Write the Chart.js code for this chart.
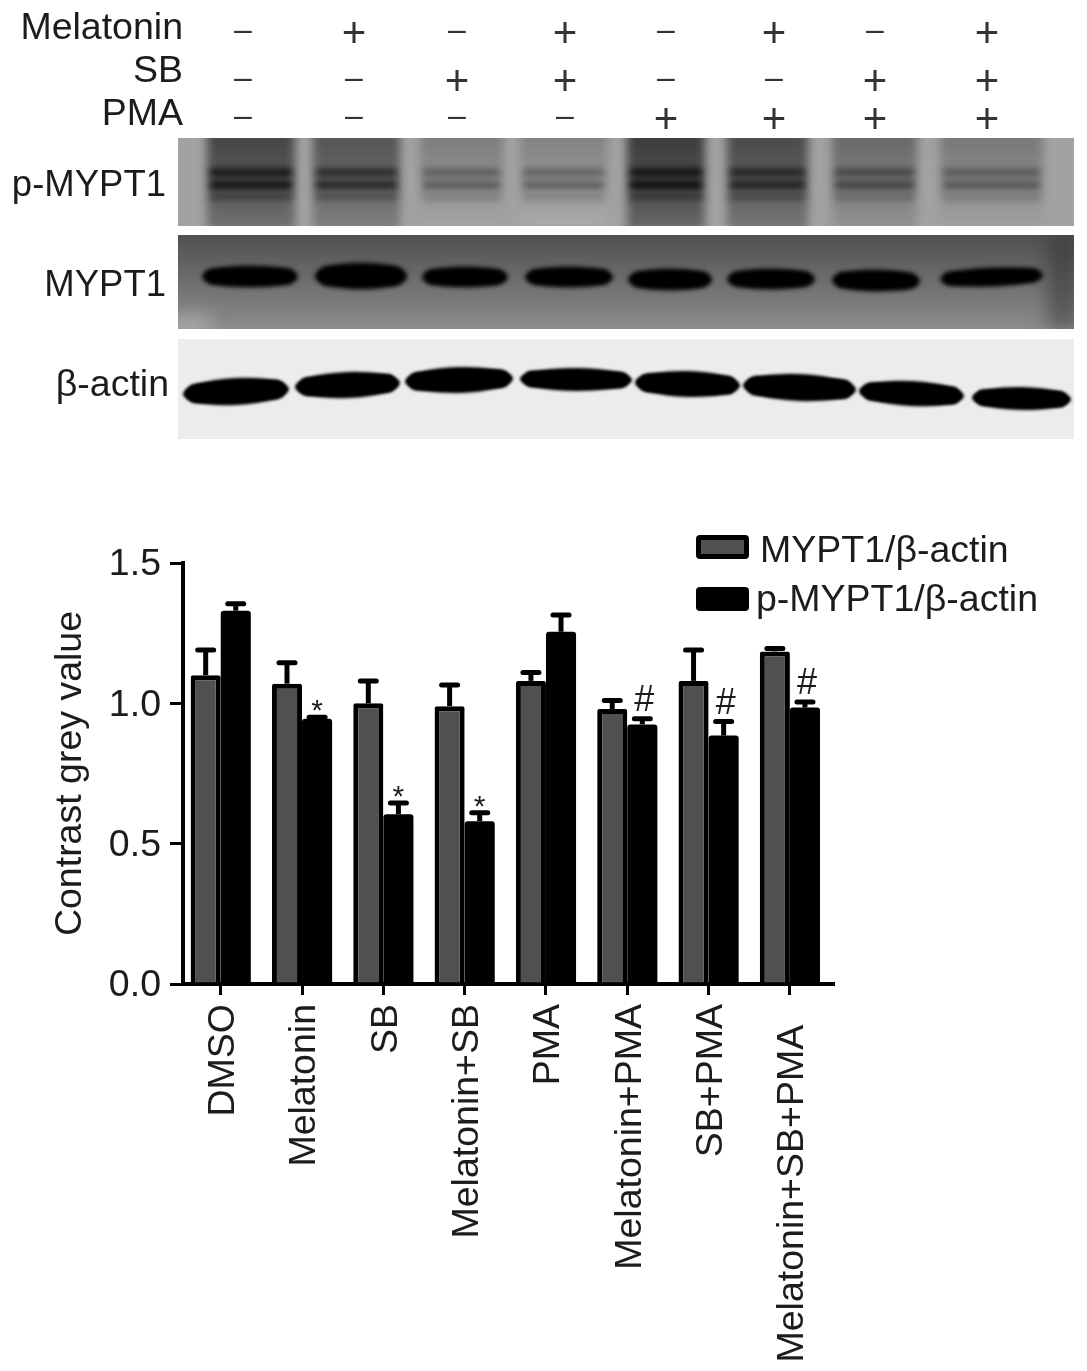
<!DOCTYPE html>
<html>
<head>
<meta charset="utf-8">
<title>MYPT1 contrast grey value</title>
<script src="https://cdn.jsdelivr.net/npm/chart.js@4"></script>
<style>
  html, body { margin: 0; padding: 0; background: #fff; }
  canvas { display: block; }
</style>
</head>
<body>
<canvas id="chart" width="1087" height="1371"></canvas>
<script>
const categories = ["DMSO", "Melatonin", "SB", "Melatonin+SB", "PMA", "Melatonin+PMA", "SB+PMA", "Melatonin+SB+PMA"];
const seriesNames = ["MYPT1/β-actin", "p-MYPT1/β-actin"];
const mypt1 = [1.10, 1.07, 1.00, 0.99, 1.08, 0.98, 1.08, 1.185];
const mypt1Err = [0.09, 0.075, 0.08, 0.075, 0.03, 0.03, 0.11, 0.01];
const pMypt1 = [1.33, 0.945, 0.605, 0.58, 1.255, 0.925, 0.885, 0.985];
const pMypt1Err = [0.025, 0.005, 0.04, 0.03, 0.06, 0.02, 0.05, 0.02];
const marks = ["", "*", "*", "*", "", "#", "#", "#"];
const yTicks = [0, 0.5, 1, 1.5];

const melatoninRow = ["–", "+", "–", "+", "–", "+", "–", "+"];
const sbRow = ["–", "–", "+", "+", "–", "–", "+", "+"];
const pmaRow = ["–", "–", "–", "–", "+", "+", "+", "+"];
const blotNames = ["p-MYPT1", "MYPT1", "β-actin"];

const FONT = '"Liberation Sans", Arial, sans-serif';
const INK = "#1c1c1c";
const TEXT_SIZE = 37.5;

// --- Western blot panels (picture only, not chart data) ---
// lane: x0, x1, base grey, band grey
const pLanes = [
  [207, 295, 85, 10], [313, 400, 100, 30], [420, 503, 140, 85], [520, 607, 145, 90],
  [627, 705, 75, 5], [727, 808, 90, 25], [832, 917, 120, 60], [940, 1043, 135, 80],
];
// band: x0, x1, y0, y1, tilt (radians)
const totalBands = [
  [202, 298, 266, 287, 0], [315, 407, 263, 289, 0], [422, 508, 267, 287, 0], [525, 613, 267, 287, 0],
  [628, 712, 269, 290, 0], [727, 815, 269, 289, 0], [832, 920, 270, 291, 0.01], [940, 1043, 268, 286, -0.04],
];
const actinBands = [
  [183, 289, 378, 405, -0.05], [295, 400, 372, 398, -0.04], [405, 513, 367, 393, -0.03], [520, 632, 368, 391, 0.01],
  [635, 740, 371, 397, 0.03], [743, 856, 374, 401, 0.04], [859, 964, 381, 406, 0.05], [972, 1071, 387, 410, 0.02],
];

// lens shaped band: a full ellipse over a flatter pill
function band(ctx, b) {
  const w = b[1] - b[0];
  const h = b[3] - b[2];
  ctx.save();
  ctx.translate((b[0] + b[1]) / 2, (b[2] + b[3]) / 2);
  ctx.rotate(b[4] || 0);
  ctx.fillStyle = "#000";
  ctx.beginPath();
  ctx.ellipse(0, 0, w / 2, h / 2, 0, 0, Math.PI * 2);
  ctx.fill();
  ctx.beginPath();
  ctx.roundRect(-w / 2 + 3, -h * 0.36, w - 6, h * 0.72, h * 0.36);
  ctx.fill();
  ctx.restore();
}
function grey(v) { return `rgb(${v},${v},${v})`; }

function drawBlots(ctx) {
  // p-MYPT1
  ctx.save();
  ctx.beginPath(); ctx.rect(178, 138, 896, 88); ctx.clip();
  ctx.fillStyle = "#a2a2a2"; ctx.fillRect(178, 138, 896, 88);
  ctx.filter = "blur(5px)";
  pLanes.forEach((l) => {
    const g = ctx.createLinearGradient(0, 138, 0, 226);
    g.addColorStop(0, grey(l[2] - 15));
    g.addColorStop(0.55, grey(l[2] + 5));
    g.addColorStop(1, grey(l[2] + 25));
    ctx.fillStyle = g;
    ctx.fillRect(l[0], 130, l[1] - l[0], 100);
  });
  ctx.filter = "blur(3.5px)";
  pLanes.forEach((l) => {
    ctx.fillStyle = grey(l[3]);
    ctx.fillRect(l[0] + 3, 169, l[1] - l[0] - 6, 7);
    ctx.fillRect(l[0] + 3, 181, l[1] - l[0] - 6, 8);
    ctx.fillStyle = grey(Math.round((l[2] + l[3]) / 2));
    ctx.fillRect(l[0] + 3, 194, l[1] - l[0] - 6, 5);
  });
  ctx.restore();

  // MYPT1
  ctx.save();
  ctx.beginPath(); ctx.rect(178, 235, 896, 94); ctx.clip();
  const g = ctx.createLinearGradient(0, 235, 0, 329);
  g.addColorStop(0, "#505050"); g.addColorStop(0.3, "#626262"); g.addColorStop(1, "#8c8c8c");
  ctx.fillStyle = g; ctx.fillRect(178, 235, 896, 94);
  ctx.filter = "blur(9px)";
  ctx.fillStyle = "rgba(190,190,190,0.6)";
  ctx.fillRect(170, 315, 40, 20);
  ctx.fillStyle = "rgba(40,40,40,0.45)";
  ctx.fillRect(1048, 235, 30, 94);
  ctx.filter = "blur(2.5px)";
  totalBands.forEach((b) => band(ctx, b));
  ctx.restore();

  // β-actin
  ctx.save();
  ctx.beginPath(); ctx.rect(178, 339, 896, 100); ctx.clip();
  ctx.fillStyle = "#ececec"; ctx.fillRect(178, 339, 896, 100);
  ctx.filter = "blur(1.5px)";
  actinBands.forEach((b) => band(ctx, b));
  ctx.restore();
}

function drawText(ctx, text, x, y, align, size, color) {
  ctx.font = `${size}px ${FONT}`;
  ctx.fillStyle = color || INK;
  ctx.textAlign = align;
  ctx.textBaseline = "middle";
  ctx.fillText(text, x, y);
}

const headerPlugin = {
  id: "header",
  beforeDraw(chart) {
    const ctx = chart.ctx;
    ctx.save();
    drawBlots(ctx);
    drawText(ctx, "Melatonin", 183, 29, "right", TEXT_SIZE);
    drawText(ctx, "SB", 183, 72, "right", TEXT_SIZE);
    drawText(ctx, "PMA", 183, 115, "right", TEXT_SIZE);
    drawText(ctx, blotNames[0], 166, 186, "right", 36.5);
    drawText(ctx, blotNames[1], 166, 286, "right", 36.5);
    drawText(ctx, blotNames[2], 169, 386, "right", TEXT_SIZE);
    const rowX = [243, 354, 457, 565, 666, 774, 875, 987];
    [[melatoninRow, 32], [sbRow, 80], [pmaRow, 118]].forEach(([row, y]) => {
      row.forEach((s, i) => {
        if (s === "+") drawText(ctx, s, rowX[i], y + 3, "center", 42, "#333");
        else drawText(ctx, s, rowX[i], y - 0.5, "center", 32, "#333");
      });
    });
    ctx.restore();
  },
};

// error bars and significance marks, placed with the chart's scales
const errorPlugin = {
  id: "errors",
  afterDatasetsDraw(chart) {
    const ctx = chart.ctx;
    const y = chart.scales.y;
    ctx.save();
    ctx.strokeStyle = "#000";
    [mypt1Err, pMypt1Err].forEach((errs, d) => {
      const bars = chart.getDatasetMeta(d).data;
      const vals = d === 0 ? mypt1 : pMypt1;
      errs.forEach((e, i) => {
        const cx = bars[i].x;
        const top = y.getPixelForValue(vals[i] + e);
        ctx.lineWidth = 5;
        ctx.beginPath();
        ctx.moveTo(cx, y.getPixelForValue(vals[i]));
        ctx.lineTo(cx, top);
        ctx.stroke();
        ctx.lineCap = "round";
        ctx.beginPath();
        ctx.moveTo(cx - 8, top);
        ctx.lineTo(cx + 8, top);
        ctx.stroke();
        ctx.lineCap = "butt";
        if (d === 1 && marks[i]) {
          const star = marks[i] === "*";
          ctx.font = `${star ? 30 : 36}px ${FONT}`;
          ctx.fillStyle = INK;
          ctx.textAlign = "center";
          ctx.textBaseline = "alphabetic";
          ctx.fillText(marks[i], star ? cx : cx + 2, top + (star ? 3 : -8));
        }
      });
    });
    ctx.restore();
  },
};

const legendPlugin = {
  id: "sideLegend",
  afterDraw(chart) {
    const ctx = chart.ctx;
    ctx.save();
    [[535, 552], [587, 601]].forEach(([boxY, textY], i) => {
      const ds = chart.data.datasets[i];
      ctx.fillStyle = "#000";
      ctx.beginPath(); ctx.roundRect(696, boxY, 53, 24, 4); ctx.fill();
      ctx.fillStyle = ds.backgroundColor;
      ctx.fillRect(701, boxY + 5, 43, 14);
      drawText(ctx, seriesNames[i], i === 0 ? 760 : 756, textY, "left", TEXT_SIZE);
    });
    ctx.restore();
  },
};

const toPoints = (vals) => vals.map((v, i) => ({ x: i, y: v }));

new Chart(document.getElementById("chart"), {
  type: "bar",
  data: {
    datasets: [
      { label: seriesNames[0], data: toPoints(mypt1), backgroundColor: "#505050", borderColor: "#000", borderWidth: 5, borderRadius: 2, borderSkipped: "bottom" },
      { label: seriesNames[1], data: toPoints(pMypt1), backgroundColor: "#000", borderWidth: 0, borderRadius: 3 },
    ],
  },
  options: {
    responsive: false,
    animation: false,
    layout: { padding: { top: 563, right: 254, bottom: 0, left: 0 } },
    categoryPercentage: 0.74,
    barPercentage: 1,
    plugins: { legend: { display: false }, tooltip: { enabled: false } },
    scales: {
      x: {
        type: "linear",
        offset: false,
        min: -0.464,
        max: 7.53,
        afterFit: (s) => { s.height = 387; },
        afterBuildTicks: (s) => { s.ticks = categories.map((c, i) => ({ value: i })); },
        grid: { offset: false, drawOnChartArea: false, drawTicks: true, tickLength: 11, color: "#000", lineWidth: 3 },
        border: { display: true, color: "#000", width: 4 },
        ticks: {
          autoSkip: false,
          minRotation: 90,
          maxRotation: 90,
          padding: 9,
          labelOffset: 3,
          color: INK,
          font: { family: FONT, size: TEXT_SIZE },
          // the longest label sits a little lower in the figure
          callback: (v) => (v === 7 ? categories[v] + "  " : categories[v]),
        },
      },
      y: {
        min: 0,
        max: 1.5,
        afterFit: (s) => { s.width = 183; },
        afterBuildTicks: (s) => { s.ticks = yTicks.map((v) => ({ value: v })); },
        grid: { drawOnChartArea: false, tickLength: 13, color: "#000", lineWidth: 3 },
        border: { display: true, color: "#000", width: 4 },
        title: {
          display: true,
          text: "Contrast grey value",
          color: INK,
          font: { family: FONT, size: TEXT_SIZE },
          padding: { top: 48, bottom: 0 },
        },
        ticks: {
          padding: 9,
          labelOffset: 2,
          color: INK,
          font: { family: FONT, size: TEXT_SIZE },
          callback: (v) => v.toFixed(1),
        },
      },
    },
  },
  plugins: [headerPlugin, errorPlugin, legendPlugin],
});
</script>
</body>
</html>
